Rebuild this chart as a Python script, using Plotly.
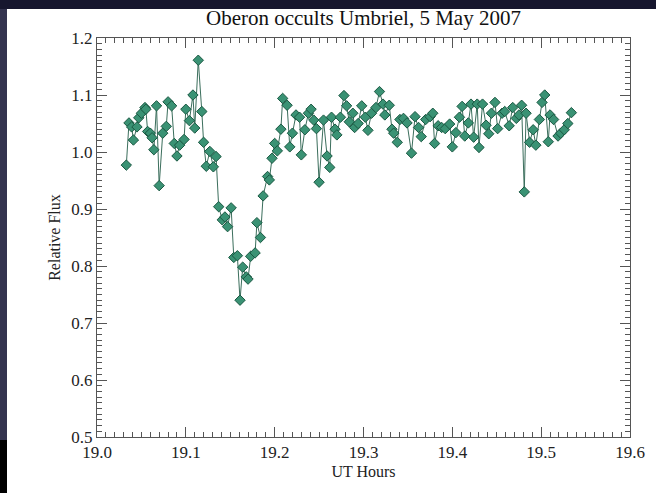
import plotly.graph_objects as go

ut_hours = [
    19.033, 19.036, 19.039, 19.041, 19.045, 19.047, 19.050, 19.054, 19.055, 19.057,
    19.060, 19.062, 19.064, 19.067, 19.070, 19.074, 19.078, 19.080, 19.084, 19.087,
    19.090, 19.093, 19.098, 19.100, 19.104, 19.108, 19.110, 19.114, 19.118, 19.120,
    19.123, 19.127, 19.131, 19.134, 19.137, 19.141, 19.144, 19.147, 19.151, 19.154,
    19.158, 19.161, 19.164, 19.168, 19.170, 19.173, 19.178, 19.180, 19.184, 19.187,
    19.192, 19.194, 19.197, 19.200, 19.203, 19.207, 19.209, 19.214, 19.217, 19.220,
    19.224, 19.228, 19.230, 19.234, 19.238, 19.241, 19.244, 19.247, 19.250, 19.255,
    19.259, 19.262, 19.264, 19.268, 19.270, 19.274, 19.278, 19.281, 19.284, 19.288,
    19.290, 19.294, 19.298, 19.302, 19.305, 19.309, 19.314, 19.318, 19.322, 19.324,
    19.329, 19.332, 19.334, 19.338, 19.341, 19.345, 19.349, 19.354, 19.358, 19.362,
    19.365, 19.370, 19.375, 19.378, 19.380, 19.384, 19.388, 19.392, 19.397, 19.400,
    19.404, 19.408, 19.411, 19.414, 19.418, 19.421, 19.424, 19.428, 19.430, 19.434,
    19.438, 19.441, 19.444, 19.448, 19.451, 19.456, 19.459, 19.464, 19.468, 19.472,
    19.475, 19.478, 19.481, 19.483, 19.487, 19.491, 19.494, 19.498, 19.501, 19.504,
    19.508, 19.510, 19.514, 19.519, 19.522, 19.526, 19.530, 19.534,
]
relative_flux = [
    0.977, 1.051, 1.044, 1.021, 1.044, 1.060, 1.068, 1.078, 1.075, 1.036,
    1.033, 1.025, 1.004, 1.081, 0.941, 1.033, 1.045, 1.088, 1.081, 1.015,
    0.993, 1.012, 1.022, 1.075, 1.055, 1.100, 1.042, 1.161, 1.071, 1.017,
    0.975, 1.001, 0.974, 0.992, 0.904, 0.881, 0.886, 0.869, 0.902, 0.815,
    0.818, 0.740, 0.798, 0.781, 0.777, 0.817, 0.823, 0.876, 0.850, 0.923,
    0.957, 0.951, 0.989, 1.015, 1.002, 1.040, 1.094, 1.082, 1.009, 1.033,
    1.065, 1.061, 0.995, 1.039, 1.068, 1.075, 1.056, 1.041, 0.947, 1.056,
    0.993, 0.973, 1.061, 1.040, 1.030, 1.061, 1.099, 1.081, 1.053, 1.068,
    1.043, 1.050, 1.081, 1.061, 1.038, 1.068, 1.078, 1.106, 1.084, 1.065,
    1.082, 1.040, 1.033, 1.017, 1.057, 1.059, 1.051, 0.998, 1.062, 1.043,
    1.027, 1.057, 1.062, 1.068, 1.015, 1.046, 1.043, 1.041, 1.049, 1.009,
    1.034, 1.061, 1.080, 1.028, 1.051, 1.084, 1.026, 1.084, 1.008, 1.084,
    1.047, 1.032, 1.068, 1.087, 1.041, 1.068, 1.071, 1.046, 1.078, 1.059,
    1.065, 1.082, 0.930, 1.068, 1.017, 1.039, 1.012, 1.057, 1.087, 1.100,
    1.018, 1.065, 1.057, 1.028, 1.033, 1.039, 1.050, 1.069,
]

x_ticks = [19.0, 19.1, 19.2, 19.3, 19.4, 19.5, 19.6]
x_tick_labels = ["19.0", "19.1", "19.2", "19.3", "19.4", "19.5", "19.6"]
y_ticks = [0.5, 0.6, 0.7, 0.8, 0.9, 1.0, 1.1, 1.2]
y_tick_labels = ["0.5", "0.6", "0.7", "0.8", "0.9", "1.0", "1.1", "1.2"]

W, H = 656, 493
L, R, T, B = 97, 26, 38, 56
PW, PH = W - L - R, H - T - B


def px(xp):
    return (xp - L) / PW


def py(yp):
    return (H - B - yp) / PH


font_family = "Liberation Serif, Times New Roman, serif"

fig = go.Figure()
fig.add_trace(go.Scatter(
    x=ut_hours, y=relative_flux, mode="lines+markers",
    line=dict(color="#3b6e5c", width=1),
    marker=dict(symbol="diamond", size=8, color="#3a9274",
                line=dict(color="#1a5842", width=1)),
    showlegend=False, hoverinfo="x+y",
))

axis_common = dict(
    showgrid=False, zeroline=False, showline=True, linecolor="#555555", linewidth=1,
    mirror="ticks", ticks="inside", ticklen=10, tickwidth=1, tickcolor="#555555",
    tickfont=dict(family=font_family, size=17, color="#222222"),
)

fig.update_layout(
    width=W, height=H,
    margin=dict(l=L, r=R, t=T, b=B, pad=0),
    paper_bgcolor="white", plot_bgcolor="white",
    xaxis=dict(
        range=[19.0, 19.6], tickvals=x_ticks, ticktext=x_tick_labels,
        minor=dict(dtick=0.01, ticks="inside", ticklen=5, tickcolor="#555555", showgrid=False),
        title=dict(text="UT Hours", font=dict(family=font_family, size=16, color="#222222"), standoff=4),
        **axis_common,
    ),
    yaxis=dict(
        range=[0.5, 1.2], tickvals=y_ticks, ticktext=y_tick_labels,
        minor=dict(dtick=0.01, ticks="inside", ticklen=5, tickcolor="#555555", showgrid=False),
        title=dict(text="Relative Flux", font=dict(family=font_family, size=16, color="#222222"), standoff=6),
        **axis_common,
    ),
    annotations=[dict(
        text="Oberon occults Umbriel, 5 May 2007", xref="paper", yref="paper",
        x=px(363), y=py(18), xanchor="center", yanchor="middle", showarrow=False,
        font=dict(family=font_family, size=21, color="#111111"),
    )],
    shapes=[
        dict(type="rect", xref="paper", yref="paper", x0=px(0), x1=px(W), y0=py(9), y1=py(0),
             fillcolor="#16162e", line=dict(width=0), layer="above"),
        dict(type="rect", xref="paper", yref="paper", x0=px(0), x1=px(7), y0=py(440), y1=py(9),
             fillcolor="#34344f", line=dict(width=0), layer="above"),
        dict(type="rect", xref="paper", yref="paper", x0=px(0), x1=px(7), y0=py(H), y1=py(440),
             fillcolor="#000000", line=dict(width=0), layer="above"),
    ],
)

fig.write_html(
    "out.html",
    config={"displayModeBar": False},
    post_script="document.body.style.margin='0';document.body.style.overflow='hidden';",
)
